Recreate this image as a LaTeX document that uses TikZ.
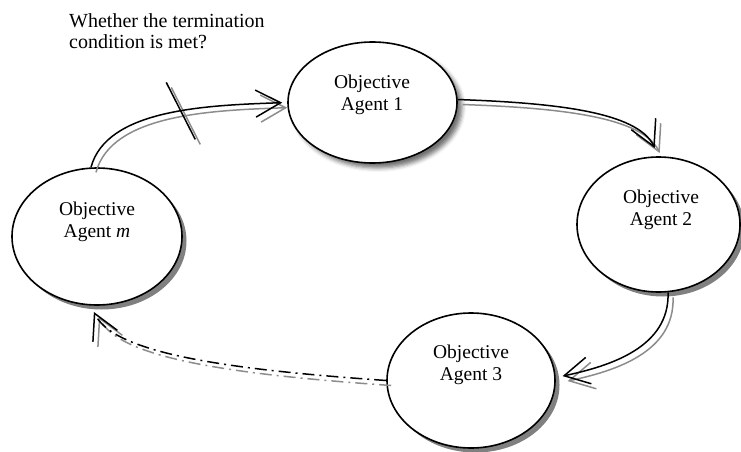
\documentclass[tikz,border=0pt]{standalone}
\usepackage{fontspec}
\setmainfont{Liberation Serif}
\usetikzlibrary{shapes.geometric,arrows.meta,shadows,shadows.blur,calc}
\begin{document}
\begin{tikzpicture}[x=1pt,y=1pt,
  agent/.style={ellipse, draw=black, line width=1.6pt, fill=white, inner sep=0pt},
  hardshadow/.style={drop shadow={shadow xshift=4.5pt, shadow yshift=-4.5pt, fill=black!50, opacity=1}},
  softshadow/.style={blur shadow={shadow xshift=5pt, shadow yshift=-5pt, shadow blur radius=4pt, shadow opacity=55}},
  agenttext/.style={font=\fontsize{19.5}{22}\selectfont, align=center, inner sep=0pt},
  flow/.style={line width=1.5pt, draw=black, -{Straight Barb[length=25pt,width=27pt]}},
  flowshade/.style={flow, draw=black!45, transform canvas={shift={(5pt,-5pt)}}},
  dashdot/.style={dash pattern=on 12pt off 5pt on 2pt off 5pt},
]
\useasboundingbox (0,0) rectangle (741,-452);

% the four agents
\node[agent, softshadow, minimum width=169pt, minimum height=121pt] (a1) at (372.5,-102.5) {};
\node[agent, hardshadow, minimum width=163pt, minimum height=135pt] (a2) at (658.5,-224.5) {};
\node[agent, hardshadow, minimum width=168pt, minimum height=135pt] (a3) at (471,-380.5) {};
\node[agent, hardshadow, minimum width=170pt, minimum height=137pt] (am) at (97,-236.5) {};

\node[agenttext] (t1) at (372,-94.5) {Objective\\Agent 1};
\node[agenttext] (t2) at (661,-209.5) {Objective\\Agent 2};
\node[agenttext] (t3) at (471,-364.5) {Objective\\Agent 3};
\node[agenttext] (tm) at (97,-221.5) {Objective\\Agent \textit{m}};

% question above the loop
\node[font=\fontsize{20}{21}\selectfont, align=left, inner sep=0pt, anchor=north west] (q)
  at (69,-13.3) {Whether the termination\\condition is met?};

% connectors: grey offset copy first, then the black line
\foreach \ink in {flowshade,flow}{
  \draw[\ink, shorten >=5pt] (am.95) to[out=75, in=182, out looseness=0.75]
    coordinate[pos=0.57] (tick) (a1.west);
  \draw[\ink, -] ($(tick)+(-14.5,28.5)$) -- ($(tick)+(14.5,-28.5)$);
  \draw[\ink, shorten >=9pt] (a1.2) to[out=-2, in=115, out looseness=1.2, in looseness=0.6] (a2.north);
  \draw[\ink, shorten >=7pt] (a2.-82) to[out=-88, in=12] (a3.2);
  \draw[\ink, dashdot, shorten >=7pt] (a3.west) to[out=176, in=-65, out looseness=1.3, in looseness=0.45] (am.-95);
}
\end{tikzpicture}
\end{document}
